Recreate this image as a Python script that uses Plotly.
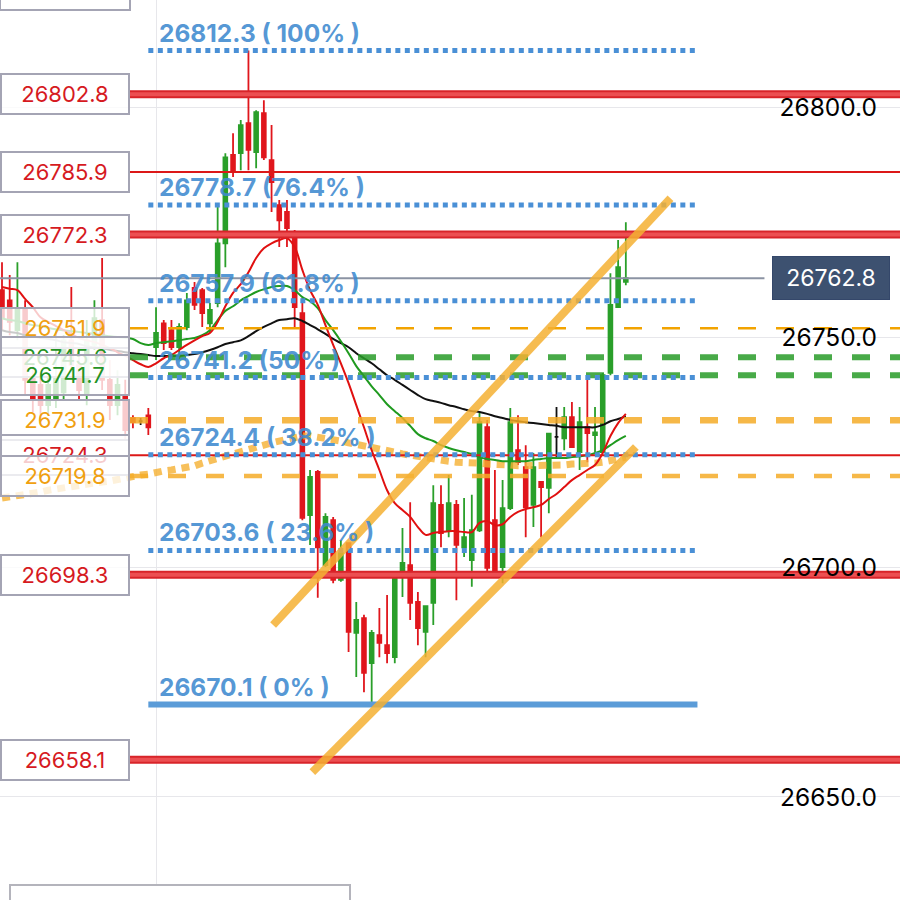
import plotly.graph_objects as go

# ---------------- data ----------------
bar_index = list(range(82))

candle_open = [26760.2, 26758.0, 26751.5, 26755.9, 26741.1, 26739.6, 26735.2, 26736.3, 26738.0, 26749.3,
               26743.9, 26737.4, 26748.3, 26753.7, 26740.7, 26735.2, 26737.4, 26732.4, 26731.7, 26733.0,
               26747.8, 26753.0, 26751.5, 26747.8, 26752.2, 26760.7, 26760.2, 26753.0, 26757.4, 26770.4,
               26789.6, 26790.0, 26796.5, 26790.2, 26798.7, 26788.5, 26778.7, 26777.2, 26772.8, 26755.2,
               26711.3, 26720.7, 26700.4, 26710.2, 26697.2, 26705.2, 26685.7, 26688.9, 26679.1, 26685.2,
               26683.0, 26680.4, 26698.9, 26700.4, 26692.4, 26685.9, 26692.2, 26713.5, 26708.0, 26713.5,
               26704.3, 26701.5, 26708.0, 26730.4, 26710.2, 26700.0, 26712.8, 26725.4, 26721.7, 26713.5,
               26718.5, 26717.2, 26728.3, 26728.0, 26732.6, 26725.0, 26730.4, 26728.7, 26725.0, 26742.2,
               26756.5, 26762.0]
candle_high = [26766.3, 26763.5, 26766.3, 26758.0, 26743.9, 26741.7, 26741.1, 26751.5, 26750.4, 26760.9,
               26747.2, 26753.7, 26758.0, 26767.2, 26745.0, 26742.8, 26740.7, 26733.0, 26732.4, 26734.6,
               26756.5, 26753.7, 26753.7, 26753.0, 26759.6, 26762.0, 26760.7, 26757.4, 26778.3, 26790.0,
               26794.3, 26797.2, 26812.3, 26799.3, 26801.5, 26796.1, 26779.8, 26779.8, 26773.3, 26758.5,
               26721.1, 26721.1, 26711.7, 26710.9, 26705.9, 26705.4, 26692.4, 26689.6, 26686.3, 26691.1,
               26693.9, 26698.7, 26708.5, 26714.1, 26694.6, 26691.7, 26717.8, 26717.8, 26720.0, 26714.6,
               26715.0, 26715.7, 26733.5, 26732.0, 26721.1, 26718.9, 26734.6, 26733.0, 26726.5, 26724.8,
               26718.6, 26729.1, 26734.8, 26734.8, 26735.9, 26734.8, 26741.1, 26734.8, 26742.2, 26763.9,
               26771.1, 26775.0]
candle_low = [26751.5, 26750.4, 26749.3, 26737.4, 26733.7, 26732.0, 26733.0, 26734.6, 26736.3, 26742.4,
              26736.3, 26735.2, 26747.2, 26738.5, 26732.0, 26733.0, 26727.6, 26730.2, 26730.9, 26728.7,
              26745.0, 26747.2, 26747.2, 26745.0, 26751.5, 26755.9, 26752.2, 26750.9, 26756.5, 26765.2,
              26784.8, 26786.3, 26786.3, 26786.7, 26788.5, 26777.2, 26769.6, 26769.6, 26752.2, 26710.2,
              26704.8, 26693.3, 26700.0, 26696.5, 26696.8, 26681.5, 26676.1, 26672.8, 26670.1, 26680.4,
              26679.1, 26679.1, 26693.5, 26688.5, 26683.0, 26680.4, 26687.4, 26704.3, 26706.5, 26692.8,
              26702.2, 26695.7, 26707.6, 26698.7, 26698.7, 26696.5, 26712.4, 26722.2, 26706.5, 26708.7,
              26706.5, 26711.7, 26723.7, 26725.4, 26725.9, 26721.1, 26722.8, 26725.0, 26724.9, 26741.7,
              26756.4, 26761.3]
candle_close = [26754.1, 26753.3, 26756.3, 26740.7, 26736.3, 26735.2, 26739.6, 26741.1, 26749.3, 26743.9,
                26738.5, 26749.3, 26754.1, 26740.7, 26735.2, 26739.6, 26729.8, 26731.5, 26731.7, 26730.4,
                26750.9, 26748.7, 26747.8, 26752.2, 26758.0, 26757.0, 26755.2, 26755.9, 26770.4, 26789.1,
                26786.3, 26796.1, 26790.7, 26798.9, 26789.1, 26783.7, 26775.4, 26773.7, 26756.5, 26710.7,
                26719.6, 26704.3, 26710.9, 26697.2, 26703.0, 26685.9, 26688.5, 26677.0, 26685.7, 26683.5,
                26681.3, 26698.3, 26700.9, 26692.2, 26686.7, 26691.5, 26713.9, 26707.4, 26713.9, 26704.8,
                26706.5, 26708.0, 26731.5, 26699.8, 26699.3, 26712.8, 26731.5, 26722.8, 26713.0, 26721.7,
                26717.4, 26729.0, 26728.3, 26732.6, 26726.1, 26731.5, 26729.1, 26729.3, 26741.7, 26757.0,
                26765.2, 26762.8]

ma_fast = [26760.9, 26760.5, 26760.2, 26758.3, 26756.5, 26754.3, 26753.3, 26752.4, 26751.5, 26750.7,
           26749.8, 26749.3, 26748.9, 26748.3, 26747.6, 26746.7, 26745.9, 26745.0, 26744.1, 26743.5,
           26744.3, 26745.4, 26746.1, 26747.2, 26748.3, 26749.3, 26750.2, 26750.9, 26753.3, 26756.7,
           26759.6, 26761.5, 26764.1, 26767.2, 26769.3, 26770.4, 26771.1, 26771.5, 26769.6, 26764.6,
           26760.2, 26757.0, 26752.6, 26748.3, 26744.3, 26740.0, 26735.2, 26730.4, 26725.4, 26721.1,
           26716.7, 26713.9, 26712.4, 26710.9, 26708.7, 26707.0, 26707.4, 26707.6, 26707.8, 26707.8,
           26707.6, 26707.6, 26709.6, 26710.0, 26709.1, 26709.3, 26710.9, 26712.0, 26712.6, 26713.0,
           26713.5, 26714.8, 26715.9, 26717.4, 26718.9, 26720.0, 26721.1, 26722.2, 26724.8, 26728.5,
           26731.3, 26733.3]
ma_mid = [26754.1, 26753.7, 26753.5, 26753.0, 26752.6, 26752.4, 26752.0, 26751.7, 26751.5, 26751.3,
          26751.1, 26750.9, 26750.7, 26750.4, 26750.2, 26750.0, 26749.8, 26749.6, 26748.7, 26748.3,
          26748.7, 26748.9, 26749.1, 26749.3, 26749.6, 26749.8, 26750.4, 26751.5, 26753.7, 26755.7,
          26756.7, 26758.0, 26758.9, 26759.8, 26760.4, 26760.9, 26761.1, 26761.1, 26760.2, 26758.7,
          26757.8, 26756.3, 26753.7, 26751.5, 26749.1, 26746.5, 26743.7, 26741.5, 26739.3, 26737.4,
          26735.4, 26733.9, 26732.4, 26730.7, 26728.9, 26728.0, 26727.4, 26726.5, 26725.9, 26725.4,
          26725.0, 26724.6, 26723.9, 26723.5, 26723.3, 26723.0, 26723.0, 26723.0, 26723.0, 26723.3,
          26723.5, 26723.7, 26723.7, 26723.7, 26723.9, 26724.1, 26724.3, 26724.8, 26725.4, 26726.5,
          26727.6, 26728.5]
ma_slow = [26751.5, 26751.1, 26750.9, 26750.4, 26750.2, 26749.8, 26749.6, 26749.3, 26748.9, 26748.7,
           26748.5, 26748.0, 26747.8, 26747.6, 26747.2, 26747.0, 26746.7, 26746.5, 26746.3, 26746.1,
           26745.9, 26745.9, 26745.9, 26745.9, 26746.1, 26746.3, 26746.7, 26747.2, 26747.8, 26748.5,
           26748.9, 26749.3, 26750.2, 26751.3, 26752.2, 26753.0, 26753.7, 26753.9, 26754.1, 26753.5,
           26752.6, 26751.7, 26750.7, 26749.6, 26748.7, 26747.8, 26746.5, 26745.4, 26744.3, 26743.0,
           26741.7, 26740.7, 26739.6, 26738.5, 26737.4, 26736.5, 26736.1, 26735.7, 26735.2, 26734.8,
           26734.3, 26733.9, 26733.7, 26733.3, 26732.8, 26732.4, 26732.0, 26731.7, 26731.5, 26731.3,
           26731.1, 26730.9, 26730.7, 26730.4, 26730.4, 26730.4, 26730.4, 26730.4, 26730.9, 26731.7,
           26732.2, 26732.8]
ma_long = [26715.0, 26715.2, 26715.7, 26715.9, 26716.1, 26716.3, 26716.7, 26717.0, 26717.2, 26717.4,
           26717.6, 26718.0, 26718.3, 26718.5, 26718.7, 26719.1, 26719.3, 26719.8, 26720.0, 26720.2,
           26720.7, 26720.9, 26721.1, 26721.3, 26721.7, 26722.0, 26722.6, 26723.0, 26723.7, 26724.1,
           26724.6, 26725.0, 26725.7, 26726.1, 26726.5, 26727.0, 26727.4, 26727.8, 26728.3, 26728.5,
           26728.5, 26728.3, 26728.0, 26727.6, 26727.4, 26727.0, 26726.7, 26726.3, 26726.1, 26725.9,
           26725.4, 26725.0, 26724.6, 26724.3, 26723.9, 26723.7, 26723.5, 26723.3, 26723.0, 26722.8,
           26722.8, 26722.6, 26722.6, 26722.4, 26722.4, 26722.2, 26722.2, 26722.0, 26722.0, 26722.0,
           26722.0, 26722.2, 26722.2, 26722.2, 26722.4, 26722.4, 26722.4, 26722.6, 26722.8, 26723.0,
           26723.5, 26723.9]

level_values = [26802.8, 26785.9, 26772.3, 26751.9, 26745.6, 26741.7, 26731.9, 26724.3, 26719.8, 26698.3, 26658.1]
level_kinds = ["red_thick", "red_thin", "red_thick", "orange_thin", "green", "green",
               "orange_thick", "red_thin", "orange_mid", "red_thick", "red_thick"]

fib_values = [26812.3, 26778.7, 26757.9, 26741.2, 26724.4, 26703.6, 26670.1]
fib_labels = ["26812.3 ( 100% )", "26778.7 (76.4% )", "26757.9 (61.8% )", "26741.2 (50% )",
              "26724.4 ( 38.2% )", "26703.6 ( 23.6% )", "26670.1 ( 0% )"]
fib_span = [19.0, 90.3]

current_price = 26762.8

channel_upper_x = [35.2, 86.8]
channel_upper_y = [26687.4, 26780.2]
channel_lower_x = [40.3, 82.3]
channel_lower_y = [26655.4, 26726.1]

y_ticks = [26650, 26700, 26750, 26800]
x_grid = [20]

# ---------------- styles ----------------
FONT = "Inter, Liberation Sans, Arial, sans-serif"
GREEN = "#2a9f2a"
RED = "#e0161c"
X_RANGE = [-0.26, 116.6]
Y_RANGE = [26627.6, 26823.3]
LEVEL_X0 = 16.62          # right edge of the label boxes
PRICE_TAG_X = 99.0

kind_style = {
    "red_thick": dict(text="#d61a1f"),
    "red_thin": dict(text="#d61a1f", color="#dc1818", width=2, dash=None),
    "orange_thin": dict(text="#f0a010", color="#f2a300", width=2.5, dash="18px,20px"),
    "orange_mid": dict(text="#f0a010", color="rgba(244,172,40,0.85)", width=4.5, dash="18px,20px"),
    "orange_thick": dict(text="#f0a010", color="rgba(244,172,40,0.85)", width=6.5, dash="18px,20px"),
    "green": dict(text="#249224", color="rgba(40,155,40,0.85)", width=6, dash="18px,20px"),
}

fig = go.Figure()

is_doji = [o == c for o, c in zip(candle_open, candle_close)]


def pick(vals, keep):
    return [v if k else None for v, k in zip(vals, keep)]


normal = [not d for d in is_doji]
fig.add_trace(go.Candlestick(
    x=bar_index,
    open=pick(candle_open, normal), high=pick(candle_high, normal),
    low=pick(candle_low, normal), close=pick(candle_close, normal),
    increasing=dict(line=dict(color=GREEN, width=1.8), fillcolor=GREEN),
    decreasing=dict(line=dict(color=RED, width=1.8), fillcolor=RED),
    whiskerwidth=0, hoverinfo="skip", showlegend=False))
fig.add_trace(go.Candlestick(
    x=bar_index,
    open=pick(candle_open, is_doji), high=pick(candle_high, is_doji),
    low=pick(candle_low, is_doji), close=pick(candle_close, is_doji),
    increasing=dict(line=dict(color="#111111", width=1.8), fillcolor="#111111"),
    decreasing=dict(line=dict(color="#111111", width=1.8), fillcolor="#111111"),
    whiskerwidth=0, hoverinfo="skip", showlegend=False))

# moving averages
fig.add_trace(go.Scatter(x=bar_index, y=ma_long, mode="lines",
                         line=dict(color="rgba(245,176,50,0.8)", width=7, dash="8px,6px"),
                         hoverinfo="skip", showlegend=False))
fig.add_trace(go.Scatter(x=bar_index, y=ma_slow, mode="lines", line=dict(color="#111111", width=2),
                         line_shape="spline", hoverinfo="skip", showlegend=False))
fig.add_trace(go.Scatter(x=bar_index, y=ma_mid, mode="lines", line=dict(color="#1f9a1f", width=2),
                         line_shape="spline", hoverinfo="skip", showlegend=False))
fig.add_trace(go.Scatter(x=bar_index, y=ma_fast, mode="lines", line=dict(color="#e01010", width=2),
                         line_shape="spline", hoverinfo="skip", showlegend=False))

# current price line
fig.add_trace(go.Scatter(x=[X_RANGE[0], PRICE_TAG_X], y=[current_price, current_price], mode="lines",
                         line=dict(color="#8b93a3", width=2), hoverinfo="skip", showlegend=False))

# horizontal levels
for v, k in zip(level_values, level_kinds):
    xs = [LEVEL_X0, X_RANGE[1]]
    if k == "red_thick":
        fig.add_trace(go.Scatter(x=xs, y=[v, v], mode="lines", line=dict(color="#d8242a", width=8),
                                 hoverinfo="skip", showlegend=False))
        fig.add_trace(go.Scatter(x=xs, y=[v, v], mode="lines", line=dict(color="#ec4f52", width=4),
                                 hoverinfo="skip", showlegend=False))
    else:
        st = kind_style[k]
        fig.add_trace(go.Scatter(x=xs, y=[v, v], mode="lines",
                                 line=dict(color=st["color"], width=st["width"], dash=st["dash"]),
                                 hoverinfo="skip", showlegend=False))

# fibonacci levels
for v, lab in zip(fib_values, fib_labels):
    if lab.endswith("( 0% )"):
        ln = dict(color="#5b9cd8", width=6)
    else:
        ln = dict(color="#4a90d6", width=5, dash="5px,4.5px")
    fig.add_trace(go.Scatter(x=fib_span, y=[v, v], mode="lines", line=ln,
                             hoverinfo="skip", showlegend=False))

# channel
for cx, cy in ((channel_upper_x, channel_upper_y), (channel_lower_x, channel_lower_y)):
    fig.add_trace(go.Scatter(x=cx, y=cy, mode="lines", line=dict(color="rgba(245,176,50,0.85)", width=8),
                             hoverinfo="skip", showlegend=False))

annotations = []
# level label boxes
for v, k in zip(level_values, level_kinds):
    annotations.append(dict(
        x=0, xref="paper", xanchor="left", y=v, yref="y", yanchor="middle",
        text=f"{v:.1f}", showarrow=False, width=124, height=36, align="center",
        bgcolor="rgba(255,255,255,0.78)", bordercolor="#a4a4b4", borderwidth=2, borderpad=1,
        font=dict(family=FONT, size=22, color=kind_style[k]["text"])))
# fibonacci labels
for v, lab in zip(fib_values, fib_labels):
    annotations.append(dict(
        x=20.1, xref="x", xanchor="left", y=v, yref="y", yanchor="bottom", yshift=1,
        text=f"<b>{lab}</b>", showarrow=False,
        font=dict(family=FONT, size=24.5, color="rgba(62,138,208,0.88)")))
# price tag
annotations.append(dict(
    x=890 / 900, xref="paper", xanchor="right", y=current_price, yref="y", yanchor="middle",
    text=f"{current_price:.1f}", showarrow=False, width=108, height=34, borderpad=4,
    bgcolor="#3d5170", bordercolor="#34476a", borderwidth=1,
    font=dict(family=FONT, size=23, color="white")))

shapes = [
    dict(type="rect", xref="paper", yref="paper", x0=0, x1=130 / 900, y0=1 - 10 / 900, y1=1.05,
         line=dict(color="#a4a4b4", width=2), fillcolor="white"),
    dict(type="rect", xref="paper", yref="paper", x0=10 / 900, x1=350 / 900, y0=-0.05, y1=1 - 885 / 900,
         line=dict(color="#b4b4bc", width=2), fillcolor="white"),
]

fig.update_layout(
    width=900, height=900, margin=dict(l=0, r=0, t=0, b=0),
    paper_bgcolor="white", plot_bgcolor="white", showlegend=False,
    annotations=annotations, shapes=shapes,
    xaxis=dict(range=X_RANGE, rangeslider=dict(visible=False), showticklabels=False,
               tickvals=x_grid, showgrid=True, gridcolor="#e7e7eb", gridwidth=1,
               zeroline=False, showline=False, ticks=""),
    yaxis=dict(range=Y_RANGE, side="right", tickvals=y_ticks,
               ticktext=[f"{t:.1f}" for t in y_ticks], ticklabelposition="inside",
               ticklabelstandoff=20, showgrid=True, gridcolor="#e7e7eb", gridwidth=1,
               zeroline=False, showline=False, ticks="",
               tickfont=dict(family=FONT, size=24.5, color="black")),
)

fig.write_html("out.html", config={"displayModeBar": False},
               post_script="document.body.style.margin='0px';")
